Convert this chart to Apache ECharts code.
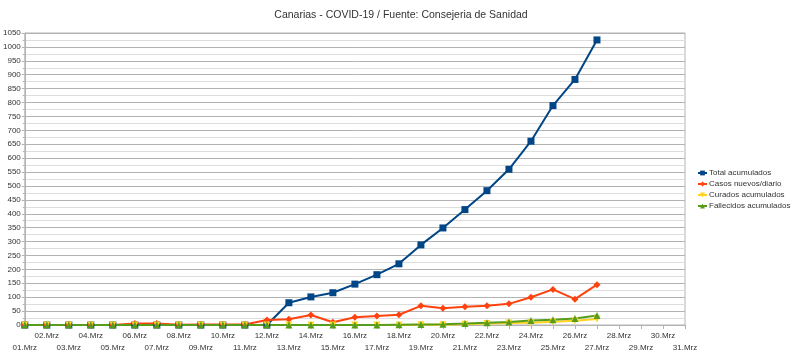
<!DOCTYPE html>
<html><head><meta charset="utf-8">
<script src="https://cdn.jsdelivr.net/npm/echarts@6/dist/echarts.min.js"></script>
<style>html,body{margin:0;padding:0;background:#fff}#c{width:800px;height:355px}</style>
</head><body><div id="c"></div>
<script>
const categories = ['01.Mrz','02.Mrz','03.Mrz','04.Mrz','05.Mrz','06.Mrz','07.Mrz','08.Mrz','09.Mrz','10.Mrz','11.Mrz','12.Mrz','13.Mrz','14.Mrz','15.Mrz','16.Mrz','17.Mrz','18.Mrz','19.Mrz','20.Mrz','21.Mrz','22.Mrz','23.Mrz','24.Mrz','25.Mrz','26.Mrz','27.Mrz','28.Mrz','29.Mrz','30.Mrz','31.Mrz'];
const totalAcumulados = [0,0,0,0,0,0,0,0,0,0,0,0,80,101,116,147,181,220,288,349,415,483,560,661,789,883,1025,null,null,null,null];
const casosNuevos = [0,0,0,0,0,5,5,1,2,2,2,18,21,36,10,28,32,37,69,60,66,69,76,100,128,93,145,null,null,null,null];
const curadosAcumulados = [0,0,0,0,0,0,0,0,0,0,0,0,0,0,0,0,0,0,1,1,3,5,7,8,12,15,22,null,null,null,null];
const fallecidosAcumulados = [0,0,0,0,0,0,0,0,0,0,0,0,0,0,0,0,0,1,2,3,5,8,11,16,19,23,34,null,null,null,null];
const yMax = 1050, yStep = 50;

const FONT = 'Liberation Sans';
const chart = echarts.init(document.getElementById('c'), null, {renderer: 'canvas'});
function ser(name, data, color, symbol, size, rotate) {
  return {
    name, type: 'line', data, symbol, symbolSize: size, symbolRotate: rotate || 0,
    showSymbol: true, connectNulls: false,
    lineStyle: {color, width: 2}, itemStyle: {color},
    emphasis: {disabled: true}, animation: false
  };
}
chart.setOption({
  backgroundColor: '#ffffff',
  animation: false,
  textStyle: {fontFamily: FONT},
  title: {
    text: 'Canarias - COVID-19 / Fuente: Consejeria de Sanidad',
    left: 396, textAlign: 'center', top: 5,
    textStyle: {fontFamily: FONT, fontSize: 10.5, fontWeight: 'normal', color: '#333'}
  },
  legend: {
    orient: 'vertical', left: 692, top: 164, itemGap: 3,
    itemWidth: 9, itemHeight: 6,
    textStyle: {fontFamily: FONT, fontSize: 8, color: '#333', padding: [0,0,0,-3]},
    data: ['Total acumulados','Casos nuevos/diario','Curados acumulados','Fallecidos acumulados']
  },
  grid: {left: 21, right: 115, top: 33, bottom: 30, show: true, borderColor: '#b3b3b3', borderWidth: 1, containLabel: false},
  xAxis: {
    type: 'category', data: categories, boundaryGap: false,
    axisLine: {lineStyle: {color: '#b3b3b3'}},
    axisTick: {show: true, alignWithLabel: true, length: 4, lineStyle: {color: '#b3b3b3'}},
    axisLabel: {
      interval: 0, fontSize: 8, color: '#333', fontFamily: FONT, lineHeight: 12, margin: 5,
      formatter: (v, i) => (i % 2 === 0 ? '\n' + v : v)
    },
    splitLine: {show: false}
  },
  yAxis: {
    type: 'value', min: 0, max: yMax, interval: yStep,
    axisLine: {show: true, lineStyle: {color: '#b3b3b3'}},
    axisTick: {show: true, length: 3, lineStyle: {color: '#b3b3b3'}},
    axisLabel: {fontSize: 8, color: '#333', fontFamily: FONT, margin: 4, formatter: v => String(v)},
    splitLine: {lineStyle: {color: '#b3b3b3', width: 1}},
    minorTick: {show: true, splitNumber: 2, length: 2, lineStyle: {color: '#b3b3b3'}},
    minorSplitLine: {show: true, lineStyle: {color: '#dddddd', width: 1}}
  },
  series: [
    ser('Total acumulados', totalAcumulados, '#004586', 'rect', 7),
    ser('Casos nuevos/diario', casosNuevos, '#ff420e', 'diamond', 7),
    ser('Curados acumulados', curadosAcumulados, '#ffd320', 'triangle', 7, 180),
    ser('Fallecidos acumulados', fallecidosAcumulados, '#579d1c', 'triangle', 7)
  ]
});
</script></body></html>
